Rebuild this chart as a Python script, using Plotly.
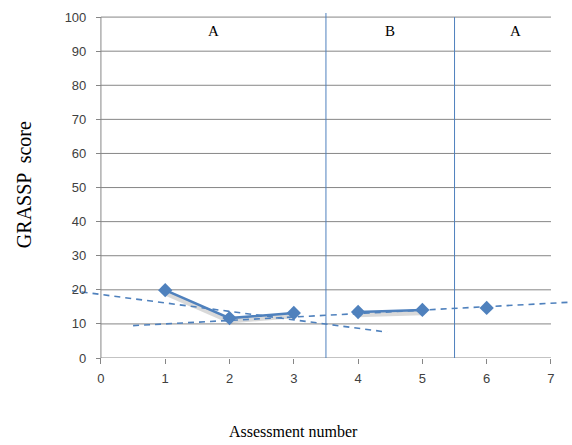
import plotly.graph_objects as go

# ---- data ----
assessment = [1, 2, 3, 4, 5, 6]
score = [19.9, 11.7, 13.2, 13.5, 14.1, 14.7]
segment = [1, 1, 1, 2, 2, 3]          # connected groups

trend_a_x = [-0.47, 4.45]
trend_a_y = [19.8, 7.6]
trend_b_x = [0.5, 7.33]
trend_b_y = [9.5, 16.4]

phase_changes = [3.5, 5.5]
phase_labels = ["A", "B", "A"]
phase_label_x = [1.75, 4.5, 6.45]
phase_label_y = 95.8

x_ticks = [0, 1, 2, 3, 4, 5, 6, 7]
y_ticks = [0, 10, 20, 30, 40, 50, 60, 70, 80, 90, 100]

BLUE = "#4F81BD"
GRID = "#868686"

X_RANGE = [-0.45, 7.327]
Y_RANGE = [0, 101.2]

fig = go.Figure()

# shadow + series per segment
for g in sorted(set(segment)):
    xs = [x for x, s in zip(assessment, segment) if s == g]
    ys = [y for y, s in zip(score, segment) if s == g]
    fig.add_trace(go.Scatter(x=xs, y=[v - 0.8 for v in ys], mode="lines",
                             line=dict(color="rgba(0,0,0,0.15)", width=5),
                             hoverinfo="skip", showlegend=False))
for g in sorted(set(segment)):
    xs = [x for x, s in zip(assessment, segment) if s == g]
    ys = [y for y, s in zip(score, segment) if s == g]
    fig.add_trace(go.Scatter(x=xs, y=ys, mode="lines+markers",
                             line=dict(color=BLUE, width=2.5),
                             marker=dict(symbol="diamond", size=11, color=BLUE),
                             showlegend=False))

for tx, ty in [(trend_a_x, trend_a_y), (trend_b_x, trend_b_y)]:
    fig.add_trace(go.Scatter(x=tx, y=ty, mode="lines",
                             line=dict(color=BLUE, width=1.6, dash="6px,5px"),
                             showlegend=False, hoverinfo="skip"))

shapes = []
for v in y_ticks:
    shapes.append(dict(type="line", xref="x", yref="y", x0=x_ticks[0], x1=x_ticks[-1],
                       y0=v, y1=v, line=dict(color=GRID, width=1), layer="below"))
shapes.append(dict(type="line", xref="x", yref="y", x0=0, x1=0, y0=0, y1=y_ticks[-1],
                   line=dict(color=GRID, width=1), layer="below"))
for pc, top in zip(phase_changes, [Y_RANGE[1], 100]):
    shapes.append(dict(type="line", xref="x", yref="y", x0=pc, x1=pc, y0=0, y1=top,
                       line=dict(color=BLUE, width=1), layer="below"))

annotations = []
for lab, lx in zip(phase_labels, phase_label_x):
    annotations.append(dict(x=lx, y=phase_label_y, xref="x", yref="y", text=lab,
                            showarrow=False,
                            font=dict(family="Liberation Serif", size=15, color="black")))
annotations.append(dict(x=-0.096, y=0.501, xref="paper", yref="paper", text="GRASSP  score",
                        textangle=-90, showarrow=False, xanchor="center", yanchor="middle",
                        font=dict(family="Liberation Serif", size=20, color="black")))
annotations.append(dict(x=0.442, y=-0.214, xref="paper", yref="paper", text="Assessment number",
                        showarrow=False, xanchor="center", yanchor="middle",
                        font=dict(family="Liberation Serif", size=16, color="black")))

tick_font = dict(family="Liberation Sans", size=13, color="#404040")
ypos = (0 - X_RANGE[0]) / (X_RANGE[1] - X_RANGE[0])

fig.update_layout(
    width=572, height=445,
    margin=dict(l=72, r=0, t=13, b=87),
    paper_bgcolor="white", plot_bgcolor="white",
    xaxis=dict(range=X_RANGE, tickvals=x_ticks, showgrid=False, zeroline=False,
               showline=False, ticks="outside", ticklen=5, tickcolor=GRID,
               tickfont=tick_font, ticklabelstandoff=3, fixedrange=True),
    yaxis=dict(range=Y_RANGE, tickvals=y_ticks, showgrid=False, zeroline=False,
               showline=False, ticks="outside", ticklen=5, tickcolor=GRID,
               tickfont=tick_font, ticklabelstandoff=7,
               anchor="free", position=ypos, fixedrange=True),
    shapes=shapes, annotations=annotations,
)

fig.write_html("out.html")
